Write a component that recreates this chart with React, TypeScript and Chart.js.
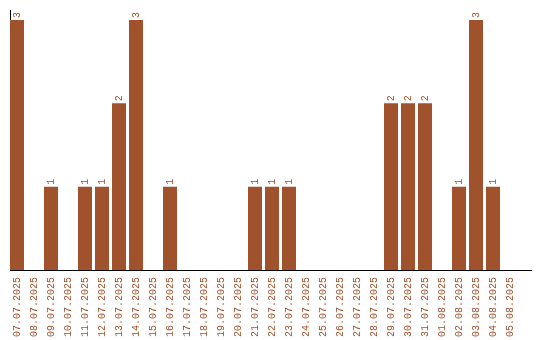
import React, { useEffect, useRef } from "react";
import { Chart, registerables } from "chart.js";

Chart.register(...registerables);

const dateLabels: string[] = [
  "07.07.2025", "08.07.2025", "09.07.2025", "10.07.2025", "11.07.2025",
  "12.07.2025", "13.07.2025", "14.07.2025", "15.07.2025", "16.07.2025",
  "17.07.2025", "18.07.2025", "19.07.2025", "20.07.2025", "21.07.2025",
  "22.07.2025", "23.07.2025", "24.07.2025", "25.07.2025", "26.07.2025",
  "27.07.2025", "28.07.2025", "29.07.2025", "30.07.2025", "31.07.2025",
  "01.08.2025", "02.08.2025", "03.08.2025", "04.08.2025", "05.08.2025",
];

const counts: number[] = [
  3, 0, 1, 0, 1, 1, 2, 3, 0, 1,
  0, 0, 0, 0, 1, 1, 1, 0, 0, 0,
  0, 0, 2, 2, 2, 0, 1, 3, 1, 0,
];

const BAR_COLOR = "#A0522D";
const FONT_FAMILY = "'Liberation Mono', monospace";

const valueLabelPlugin = {
  id: "valueLabels",
  afterDatasetsDraw(chart: any) {
    const ctx = chart.ctx;
    const meta = chart.getDatasetMeta(0);
    ctx.save();
    ctx.fillStyle = BAR_COLOR;
    ctx.font = `10px ${FONT_FAMILY}`;
    ctx.textAlign = "left";
    ctx.textBaseline = "middle";
    meta.data.forEach((bar: any, i: number) => {
      const v = counts[i];
      if (!v) return;
      ctx.save();
      ctx.translate(bar.x, bar.y - 2);
      ctx.rotate(-Math.PI / 2);
      ctx.fillText(String(v), 0, 0);
      ctx.restore();
    });
    ctx.restore();
  },
};

export default function App() {
  const canvasRef = useRef<HTMLCanvasElement | null>(null);

  useEffect(() => {
    if (!canvasRef.current) return;
    const chart = new Chart(canvasRef.current, {
      type: "bar",
      data: {
        datasets: [
          {
            data: counts.map((v, i) => ({ x: i, y: v })),
            backgroundColor: BAR_COLOR,
            borderWidth: 0,
            barPercentage: 1,
            categoryPercentage: 14 / 17,
          },
        ],
      },
      options: {
        animation: false,
        responsive: true,
        maintainAspectRatio: false,
        layout: { padding: { left: 10, top: 10, right: 9, bottom: 0 } },
        plugins: {
          legend: { display: false },
          tooltip: { enabled: false },
        },
        scales: {
          x: {
            type: "linear",
            min: -7 / 17,
            max: 30.235,
            offset: false,
            grid: { display: false, drawTicks: false },
            border: { display: true, color: "#000", width: 1 },
            afterFit: (scale: any) => {
              scale.height = 70;
              scale.paddingLeft = 0;
              scale.paddingRight = 0;
            },
            ticks: {
              stepSize: 1,
              includeBounds: false,
              autoSkip: false,
              minRotation: 90,
              maxRotation: 90,
              padding: 7,
              color: BAR_COLOR,
              font: { family: FONT_FAMILY, size: 10 },
              callback: (value: any) => dateLabels[value as number] ?? "",
            },
          },
          y: {
            min: 0,
            max: 3.12,
            grid: { display: false, drawTicks: false },
            border: { display: true, color: "#000", width: 1 },
            ticks: { display: false },
          },
        },
      },
      plugins: [valueLabelPlugin],
    } as any);
    return () => chart.destroy();
  }, []);

  return (
    <div style={{ position: "fixed", left: 0, top: 0, width: 540, height: 340, background: "#fff" }}>
      <canvas ref={canvasRef} />
    </div>
  );
}
